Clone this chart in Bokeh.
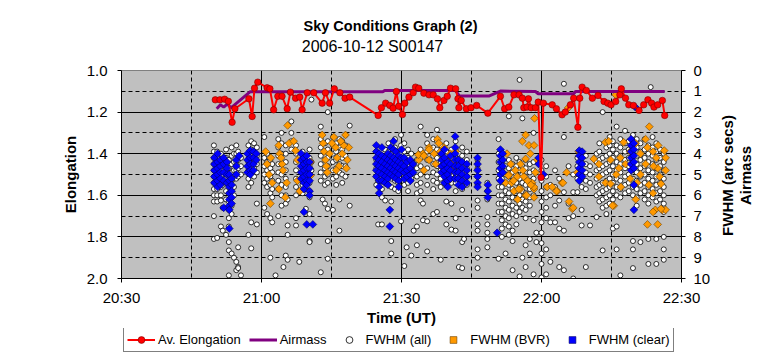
import math
from bokeh.plotting import figure
from bokeh.layouts import column, row
from bokeh.models import (Range1d, LinearAxis, FixedTicker, Grid, Legend, Label,
                          LegendItem, PrintfTickFormatter)
from bokeh.embed import file_html
from bokeh.resources import INLINE

FONT = "Liberation Sans"

# ---------------- data (time in minutes after 00:00 UT) ----------------
TICK_MIN = [1230, 1260, 1290, 1320, 1350]
TICK_LBL = ["20:30", "21:00", "21:30", "22:00", "22:30"]
ELONG_TICKS = [1.0, 1.2, 1.4, 1.6, 1.8, 2.0]
FWHM_TICKS = [0, 1, 2, 3, 4, 5, 6, 7, 8, 9, 10]

ELONG_T = [1250.1, 1251.1, 1252.1, 1252.9, 1253.7, 1254.3, 1257.3, 1258.0, 1258.5, 1259.2,
           1261.2, 1261.8, 1262.6, 1263.5, 1264.4, 1265.5, 1266.2, 1267.3, 1268.2, 1268.7,
           1269.8, 1271.2, 1273.0, 1273.7, 1274.6, 1275.6, 1276.8, 1277.9, 1278.9, 1285.0,
           1285.7, 1286.6, 1287.5, 1288.2, 1288.9, 1289.4, 1290.2, 1290.7, 1291.6, 1292.5,
           1293.0, 1293.7, 1294.8, 1295.9, 1296.8, 1297.7, 1298.2, 1299.1, 1299.8, 1300.5,
           1301.6, 1302.1, 1302.3, 1302.8, 1303.9, 1304.9, 1306.1, 1308.5, 1311.2, 1312.1,
           1313.0, 1314.1, 1315.2, 1315.9, 1316.2, 1316.9, 1317.2, 1317.8, 1318.7, 1319.3,
           1319.9, 1320.4, 1322.3, 1323.2, 1324.4, 1325.1, 1326.2, 1326.9, 1327.8, 1328.2,
           1328.7, 1329.6, 1330.9, 1332.1, 1333.4, 1334.2, 1334.9, 1335.9, 1336.8, 1337.1,
           1338.0, 1338.7, 1339.7, 1340.9, 1341.9, 1342.8, 1343.6, 1344.1, 1344.9, 1345.9,
           1346.4]
ELONG_V = [1.141, 1.141, 1.138, 1.148, 1.249, 1.184, 1.136, 1.221, 1.085, 1.056,
           1.083, 1.088, 1.189, 1.124, 1.124, 1.184, 1.104, 1.133, 1.128, 1.189,
           1.107, 1.107, 1.157, 1.107, 1.157, 1.088, 1.107, 1.133, 1.128, 1.216,
           1.179, 1.157, 1.168, 1.181, 1.101, 1.172, 1.212, 1.157, 1.128, 1.107,
           1.080, 1.085, 1.109, 1.117, 1.117, 1.136, 1.179, 1.144, 1.124, 1.085,
           1.088, 1.136, 1.179, 1.144, 1.184, 1.179, 1.168, 1.205, 1.124, 1.184,
           1.176, 1.117, 1.117, 1.133, 1.179, 1.176, 1.136, 1.179, 1.179, 1.152,
           1.514, 1.157, 1.165, 1.184, 1.213, 1.200, 1.165, 1.133, 1.273, 1.133,
           1.080, 1.096, 1.133, 1.120, 1.149, 1.157, 1.165, 1.149, 1.117, 1.088,
           1.133, 1.165, 1.168, 1.192, 1.165, 1.141, 1.157, 1.176, 1.165, 1.144,
           1.216]

AIR_T = [1250.4, 1251.2, 1251.9, 1252.7, 1253.4, 1254.1, 1257.6, 1286.0, 1286.4, 1301.6,
         1302.4, 1308.7, 1311.2, 1318.7, 1319.3, 1326.9, 1327.3, 1346.4]
AIR_V = [1.84, 1.65, 1.76, 1.60, 1.79, 1.68, 1.02, 1.02, 0.96, 0.96,
         1.23, 1.23, 0.99, 1.01, 1.12, 1.12, 1.01, 1.01]

# FWHM (all): one time per column of measurements, values in arc secs
ALL_COL_T = [1249.8, 1250.5, 1251.3, 1251.7, 1252.4, 1253.0, 1253.6, 1254.1, 1254.6, 1255.0, 1255.6,
             1257.2, 1257.8, 1258.4, 1259.0,
             1260.6, 1261.2, 1261.9, 1262.3, 1263.0, 1263.6, 1264.3, 1264.7, 1265.2, 1265.6, 1266.4,
             1267.4, 1268.1,
             1268.8, 1269.5, 1270.3, 1270.7,
             1272.7, 1273.1, 1273.6, 1274.2, 1275.3, 1276.0, 1276.7, 1277.3, 1278.0, 1278.9,
             1284.6, 1285.0, 1285.8, 1286.5, 1287.2, 1287.8, 1288.6, 1289.3, 1289.9, 1290.6,
             1291.1, 1291.4, 1292.1, 1292.6, 1293.3, 1294.1, 1294.6, 1295.5, 1296.8, 1297.6,
             1298.4, 1299.6, 1300.7, 1301.6, 1302.3, 1303.0, 1303.4, 1304.0, 1306.3, 1308.4,
             1310.8, 1311.5, 1312.3, 1313.0, 1313.8, 1314.6, 1315.3, 1315.9, 1316.6, 1317.5,
             1318.3, 1318.9, 1320.0,
             1321.0, 1321.9, 1322.9, 1323.8, 1324.8, 1325.8, 1326.8, 1327.7, 1328.6, 1329.5, 1330.4,
             1331.8, 1332.4, 1333.1, 1333.9, 1334.6, 1335.3, 1336.1, 1336.9, 1337.9, 1338.7,
             1339.6, 1340.4, 1341.2, 1342.1, 1342.9, 1343.4, 1343.8, 1344.6, 1345.4, 1346.2]
ALL_COL_F = [
    [3.6, 3.9, 4.2, 4.5, 4.8, 5.1, 5.4, 5.7, 6.0, 6.3, 7.0, 8.1],
    [3.9, 4.2, 4.5, 4.8, 5.1, 5.4, 5.7, 6.0, 6.3, 8.05],
    [4.0, 4.4, 4.8, 5.2, 5.6, 6.0, 6.25, 7.5],
    [4.5, 5.0, 5.5, 6.6, 7.7],
    [3.8, 4.2, 4.6, 5.0, 5.4, 5.8, 6.2, 7.9],
    [4.3, 4.7, 5.1, 5.5, 5.9, 6.3, 6.7, 7.1, 7.5, 8.25, 8.65, 9.85],
    [3.7, 4.1, 4.5, 4.9, 5.3, 5.7, 6.1, 6.5, 6.9, 8.8],
    [4.0, 4.4, 4.8, 5.2, 5.6, 6.0, 9.0],
    [3.6, 4.0, 4.4, 4.8, 5.2, 9.2, 9.6],
    [3.9, 4.3, 4.7, 5.1, 8.5, 9.45, 9.5],
    [4.2, 4.6, 5.0, 9.85],
    [3.6, 4.0, 4.4, 4.8, 5.2, 5.6, 7.9],
    [3.4, 3.8, 4.2, 4.6, 5.0, 5.4, 7.3, 8.55],
    [3.5, 3.9, 4.3, 4.7, 5.1],
    [3.7, 4.1, 4.5, 4.9, 6.4, 7.4],
    [3.2, 4.2, 4.6, 5.0, 5.4, 6.6],
    [4.0, 4.4, 4.8, 5.2, 5.6, 6.9],
    [4.3, 4.7, 5.1, 5.5, 5.9, 7.1, 8.1, 9.0],
    [4.5, 4.9, 5.3, 5.7, 6.1, 7.3],
    [9.85],
    [3.3, 3.7, 4.1, 4.5, 4.9, 5.3, 5.7, 7.0],
    [3.0, 3.5, 4.0, 4.5, 5.0, 5.5, 6.0, 6.5],
    [9.45],
    [3.6, 4.0, 4.4, 4.8, 5.2, 5.6, 6.0, 6.4, 8.9],
    [6.2, 7.45, 7.9, 9.1],
    [2.45, 3.0, 3.4, 3.8],
    [3.6, 4.0, 4.4, 4.8, 5.2, 5.6, 6.0, 7.1, 7.45],
    [9.2],
    [3.9, 4.3, 4.7, 5.1, 5.5, 5.9],
    [4.1, 4.5, 4.9, 5.3, 5.7, 6.65],
    [3.8, 4.2, 4.6, 5.0, 5.4, 5.8, 6.1, 6.9, 8.2, 8.25],
    [1.4, 4.4, 4.8],
    [2.7, 3.3, 3.7, 4.1, 4.5, 4.9, 5.3, 9.7],
    [6.2],
    [3.5, 3.9, 4.3, 4.7, 5.1, 5.5, 6.4],
    [2.0, 3.4, 3.8, 4.2, 4.6, 5.0, 5.4, 6.65, 8.2, 9.05],
    [3.2, 3.6, 4.0, 4.4, 4.8, 5.2, 6.7],
    [3.5, 3.9, 4.3, 4.7, 5.1, 5.5],
    [3.3, 3.7, 4.1, 4.5, 4.9, 6.2, 7.7],
    [3.4, 3.8, 4.2, 4.6, 5.0, 5.4],
    [3.1, 3.6, 4.1, 4.6, 5.1],
    [2.65, 6.5],
    [3.9, 4.3, 4.7, 5.1, 5.5],
    [4.1, 4.5, 4.9, 5.3, 7.4],
    [4.5, 4.9, 5.3, 5.7, 6.1, 7.4],
    [3.8, 4.2, 4.6, 5.0, 5.4, 6.25],
    [3.5, 3.9, 4.3, 4.7, 5.1, 5.5],
    [4.0, 4.4, 4.8, 5.2, 5.6, 6.3, 8.2, 8.8],
    [3.3, 3.7, 4.1, 4.5, 4.9, 5.3, 5.7],
    [4.2, 4.6, 5.0, 5.4, 5.8],
    [3.1, 3.6, 4.0, 4.4, 4.8, 7.25],
    [3.5, 3.9, 4.3, 4.7, 5.1, 5.5, 9.4],
    [8.5],
    [3.8, 4.2, 4.6, 5.0, 5.4, 5.8],
    [4.0, 4.4, 4.8, 5.2, 8.9],
    [7.7],
    [4.3, 4.7, 5.1, 5.5, 5.9, 7.5, 8.4],
    [2.7, 3.8, 4.2, 4.6, 5.0, 5.4, 5.8, 6.25],
    [6.4, 7.2],
    [3.1, 3.5, 3.9, 4.3, 4.7, 5.1, 5.5, 7.25, 8.7],
    [3.3, 3.7, 4.1, 4.5, 4.9, 5.3, 5.7, 6.9],
    [2.85, 3.4, 3.8, 4.2, 4.6, 5.0, 5.4, 6.8],
    [3.6, 4.0, 4.4, 4.8, 5.2, 5.6, 9.1],
    [3.5, 3.9, 4.3, 4.7, 5.1, 5.5, 6.3, 7.4],
    [3.8, 4.2, 4.6, 5.0, 5.4, 6.4, 7.65],
    [3.4, 3.8, 4.2, 4.6, 5.0, 5.4, 5.8, 7.1, 7.7],
    [4.0, 4.4, 4.8, 5.2, 9.45],
    [3.7, 4.1, 4.5, 4.9, 5.3, 5.7, 6.7, 8.25, 9.5],
    [8.1],
    [3.9, 4.3, 4.7, 5.1, 5.5],
    [4.3, 4.7, 5.1, 5.5, 6.25, 6.6, 7.4, 7.7, 8.6, 9.0, 9.5],
    [5.4, 5.8, 6.2, 7.05, 7.4, 7.8, 8.1, 8.5],
    [3.3, 4.0, 4.4, 4.8, 5.2, 5.6, 6.0, 6.4, 6.8, 9.05],
    [4.4, 4.8, 5.2, 5.6, 6.0, 6.4, 6.8, 7.2, 7.6, 8.0],
    [4.6, 5.0, 5.4, 5.8, 6.2, 6.6, 7.0, 7.4, 8.8],
    [2.2, 4.3, 4.7, 5.1, 5.5, 5.9, 6.3, 6.7, 7.1, 7.5, 7.9],
    [4.5, 4.9, 5.3, 5.7, 6.1, 6.5, 6.9, 7.7, 8.2, 9.6],
    [4.2, 4.6, 5.0, 5.4, 5.8, 6.2, 6.6, 7.0, 7.4],
    [0.45, 4.4, 4.8, 5.2, 5.6, 6.0, 6.4, 6.8, 9.9],
    [2.3, 4.6, 5.0, 5.4, 5.8, 6.2, 6.6, 9.0],
    [4.3, 4.7, 5.1, 5.5, 5.9, 6.3, 6.7, 7.1, 8.4, 9.45],
    [4.5, 4.9, 5.3, 5.7, 6.1, 6.5, 8.1, 8.8],
    [3.0, 4.4, 4.8, 5.2, 5.6, 6.0, 7.2, 9.8],
    [7.8, 8.25],
    [4.3, 4.8, 5.3, 5.8, 6.3, 6.8, 7.3, 7.8, 8.3, 8.8, 9.3, 9.95],
    [4.6, 5.1, 5.6, 6.1, 6.6, 7.1, 8.6, 9.8],
    [5.5, 6.0, 7.3, 9.2],
    [4.8, 5.6, 6.5, 7.3],
    [5.2, 6.25, 7.6, 9.45],
    [0.64, 3.2, 5.85, 7.7, 9.6],
    [4.6, 6.4, 7.1],
    [5.0, 5.85, 7.0, 10.0],
    [4.2, 4.6, 5.2, 5.85],
    [4.4, 4.8, 5.2, 5.6, 6.7, 7.45],
    [4.1, 4.5, 4.9, 5.3, 5.7, 9.45],
    [4.6, 5.0, 5.4, 7.45],
    [4.0, 4.4, 4.8, 5.2, 5.6, 6.0, 7.05],
    [3.5, 3.9, 4.3, 4.7, 5.1, 5.5, 5.9, 6.3],
    [2.0, 4.2, 4.6, 5.0, 5.4, 5.8, 6.2, 6.6, 8.65],
    [3.7, 4.1, 4.5, 4.9, 5.3, 5.7, 6.1, 6.5, 6.9],
    [3.2, 3.6, 4.0, 4.4, 4.8, 5.2, 5.6, 6.0, 6.4],
    [3.4, 3.8, 4.2, 4.6, 5.0, 5.4, 5.8, 6.2, 7.6],
    [2.7, 3.6, 4.0, 4.4, 4.8, 5.2, 5.6, 6.0, 7.5, 8.6],
    [3.3, 3.7, 4.1, 4.5, 4.9, 5.3, 5.7, 6.1, 9.85],
    [2.9, 3.5, 3.9, 4.3, 4.7, 5.1, 5.5, 5.9],
    [3.4, 3.8, 4.2, 4.6, 5.0, 5.4, 5.8],
    [3.1, 3.6, 4.0, 4.4, 4.8, 5.2, 5.6, 6.0, 8.2, 8.6, 9.5],
    [3.3, 3.7, 4.1, 4.5, 4.9, 5.3, 5.7, 6.1, 6.5],
    [3.5, 3.9, 4.3, 4.7, 5.1, 5.5, 5.9, 8.25],
    [3.3, 3.8, 4.2, 4.6, 5.0, 5.4, 5.8, 6.2],
    [3.6, 4.0, 4.4, 4.8, 5.2, 5.6, 6.0, 6.4, 8.1, 9.3],
    [0.8],
    [3.2, 3.7, 4.1, 4.5, 4.9, 5.3, 5.7, 6.1],
    [3.5, 3.9, 4.3, 4.7, 5.1, 5.5, 5.9, 6.3, 8.1, 9.3],
    [3.8, 4.2, 4.6, 5.0, 5.4, 5.8, 6.2],
    [4.0, 4.4, 4.8, 5.2, 5.6, 6.0, 6.4, 6.8, 8.0, 8.6, 9.1],
]

# FWHM (BVR)
BVR_T = [1260.9, 1261.2, 1261.6, 1262.3, 1261.9, 1263.7, 1263.9, 1264.4, 1264.6, 1263.7,
         1265.4, 1265.1, 1265.6, 1265.9, 1266.9, 1267.3, 1267.7, 1267.7, 1268.2, 1270.5,
         1270.5, 1262.0, 1264.2,
         1273.0, 1273.2, 1273.4, 1273.7, 1274.1, 1275.5, 1275.9, 1276.2, 1276.6, 1277.3,
         1278.0, 1278.4, 1278.7, 1276.0, 1277.6, 1278.2, 1273.9, 1275.1, 1274.6, 1277.0,
         1293.7, 1294.6, 1294.8, 1295.9, 1295.9, 1297.7, 1298.0, 1298.3, 1297.3, 1299.1,
         1299.5, 1299.8, 1299.5, 1300.1, 1300.5, 1301.2, 1301.6, 1293.6, 1295.9, 1294.8,
         1297.0, 1298.6, 1300.8,
         1318.5, 1316.6, 1315.9, 1317.3, 1318.4, 1317.6, 1316.6, 1315.5, 1314.4, 1313.4,
         1313.0, 1312.3, 1314.1, 1315.5, 1316.6, 1318.0, 1318.7, 1318.4, 1318.4, 1319.1,
         1314.8, 1316.2, 1312.6, 1313.6, 1314.9, 1316.0, 1317.0, 1312.9, 1314.0, 1315.1,
         1316.8, 1318.4, 1317.7, 1321.2, 1323.4,
         1325.4, 1324.4, 1322.3, 1327.7, 1328.0, 1325.9, 1326.6, 1323.2, 1324.6, 1326.8,
         1325.7,
         1333.7, 1334.4, 1334.8, 1332.3, 1331.2, 1332.3, 1333.7, 1334.8, 1335.5, 1335.2,
         1336.6, 1336.9, 1337.6, 1335.9, 1340.2, 1341.2, 1342.3, 1343.1, 1342.7, 1342.3,
         1341.2, 1340.5, 1340.2, 1343.9, 1344.6, 1344.9, 1345.3, 1345.6, 1346.3, 1346.6,
         1346.6, 1345.9, 1346.6, 1344.4, 1343.9, 1342.7, 1343.9, 1344.9, 1345.6, 1336.0,
         1337.0, 1338.0, 1339.0, 1344.0, 1345.0, 1343.0, 1339.0]
BVR_F = [3.9, 4.5, 5.0, 5.4, 6.4, 3.6, 4.0, 4.5, 4.8, 5.7,
         5.4, 6.1, 2.64, 3.5, 3.4, 3.85, 4.3, 5.3, 5.8, 4.4,
         5.05, 4.2, 4.2,
         3.1, 3.5, 3.9, 4.3, 4.9, 3.2, 3.7, 4.2, 4.6, 4.0,
         3.1, 4.3, 3.7, 4.8, 3.6, 4.7, 4.6, 3.5, 4.0, 3.4,
         4.3, 4.0, 4.8, 3.7, 4.3, 3.3, 3.5, 3.9, 4.5, 3.7,
         4.3, 5.0, 5.45, 5.3, 4.0, 4.4, 3.9, 4.05, 3.8, 4.1,
         4.0, 4.6, 4.8,
         2.3, 3.1, 3.4, 3.6, 3.6, 4.0, 4.25, 4.5, 4.8, 4.5,
         5.0, 5.4, 5.8, 5.7, 6.0, 5.4, 4.9, 5.7, 6.1, 4.3,
         5.1, 5.1, 4.0, 5.4, 6.2, 4.8, 5.3, 5.05, 5.3, 5.7,
         6.0, 5.6, 5.5, 5.6, 5.8,
         4.9, 5.4, 5.6, 4.9, 3.9, 6.3, 6.65, 5.8, 5.4, 6.6,
         1.8,
         3.45, 3.4, 4.3, 4.5, 4.25, 5.1, 5.4, 5.45, 6.5, 6.5,
         4.7, 4.2, 3.45, 1.17, 3.5, 4.0, 3.3, 2.7, 3.7, 4.5,
         5.0, 5.4, 6.2, 3.9, 4.2, 4.7, 5.1, 5.45, 3.85, 4.2,
         4.8, 6.7, 6.7, 6.7, 5.9, 7.4, 6.8, 7.4, 6.65, 5.0,
         5.6, 4.5, 5.2, 4.6, 3.6, 5.5, 3.9]

# FWHM (clear): one time per column of measurements
CLR_COL_T = [1249.9, 1250.6, 1251.2, 1251.9, 1252.6, 1253.1, 1253.6, 1254.6, 1255.2,
             1257.0, 1257.6, 1258.3, 1258.9,
             1268.5, 1269.1, 1269.7, 1270.3, 1271.0,
             1284.6, 1285.2, 1285.8, 1286.5, 1287.1, 1287.5, 1287.7, 1288.3, 1288.8, 1289.4,
             1290.0, 1290.6, 1291.2, 1291.9, 1292.5,
             1298.6, 1299.2, 1299.9, 1300.5, 1301.5, 1302.2, 1303.0, 1304.0, 1306.3, 1308.5,
             1310.5, 1311.2, 1311.7, 1319.4, 1320.4,
             1328.1, 1328.7, 1339.2, 1339.8, 1340.1]
CLR_COL_F = [
    [4.2, 4.5, 4.8, 5.1, 5.4],
    [4.0, 4.4, 4.7, 5.0, 5.3, 5.6],
    [4.3, 4.6, 4.9, 5.2, 5.5],
    [4.2, 4.5, 4.9, 5.3, 6.6],
    [4.4, 4.7, 5.0, 5.4],
    [5.0, 5.3, 5.6, 5.9, 6.2, 6.5, 6.7, 7.6],
    [5.2, 5.5, 5.8, 6.1, 6.4],
    [4.3, 4.6, 5.0],
    [4.1],
    [4.0, 4.3, 4.6, 4.9],
    [3.85, 4.2, 4.5, 4.8, 5.0],
    [3.9, 4.2, 4.5, 4.8],
    [4.0, 4.3],
    [4.0, 4.3, 4.6, 4.9, 5.2],
    [4.2, 4.5, 4.8, 5.1, 5.4, 5.7, 6.8],
    [4.1, 4.4, 4.7, 5.0, 5.3, 5.5, 7.4],
    [4.4, 4.7, 5.0, 5.3, 5.8, 6.0],
    [7.4],
    [3.6, 3.9, 4.2, 4.5, 4.8, 5.1],
    [4.0, 4.3, 4.6, 4.9, 5.3, 5.6, 5.9],
    [3.7, 4.1, 4.4, 4.7, 5.0, 5.3],
    [4.2, 4.5, 4.8, 5.1, 5.4],
    [4.0, 4.3, 4.6, 4.9, 5.2, 5.5],
    [6.7, 7.5],
    [3.7, 4.1, 4.4, 4.7, 5.0],
    [3.4, 3.8, 4.2, 4.5, 4.8, 5.1],
    [3.9, 4.3, 4.6, 4.9, 5.2],
    [4.1, 4.4, 4.7, 5.0, 5.3, 5.6],
    [3.8, 4.2, 4.5, 4.8],
    [4.2, 4.6, 4.9, 5.2],
    [4.4, 4.8, 5.1],
    [4.3, 4.7, 5.0, 5.3],
    [4.5, 4.9],
    [4.0, 4.3, 4.6, 4.9],
    [3.8, 4.2, 4.5, 4.8, 5.1, 5.4],
    [4.4, 4.7, 5.0, 5.3, 5.6],
    [4.1, 4.5, 4.8, 5.2],
    [3.17, 3.7, 4.0, 4.3, 4.6, 4.9, 5.2],
    [4.3, 4.6, 4.9, 5.2, 5.5],
    [4.4, 4.7, 5.0, 5.3, 5.6],
    [4.5, 4.8, 5.1, 5.4],
    [4.2, 4.5, 4.8, 5.1, 5.4, 5.6],
    [5.5, 5.8, 6.1],
    [7.8],
    [3.8, 4.1, 4.4, 4.7, 5.0, 5.3],
    [4.0, 4.3, 4.6, 4.9],
    [4.2, 4.5],
    [5.0],
    [3.85, 4.1, 4.4, 4.7, 5.0, 5.3],
    [3.9, 4.2, 4.5, 4.8, 5.1],
    [3.3, 3.6, 3.9, 4.2, 4.5, 4.8],
    [3.5, 3.8, 4.1, 4.4, 4.7, 5.5, 6.7],
    [1.76],
]

TITLE = "Sky Conditions Graph (2)"
SUBTITLE = "2006-10-12 S00147"
RIGHT_TITLES = ["FWHM (arc secs)", "Airmass"]
LEGEND_LABELS = ["Av. Elongation", "Airmass", "FWHM (all)", "FWHM (BVR)", "FWHM (clear)"]

all_t = [t for t, fs in zip(ALL_COL_T, ALL_COL_F) for _ in fs]
all_f = [f for fs in ALL_COL_F for f in fs]
clr_t = [t for t, fs in zip(CLR_COL_T, CLR_COL_F) for _ in fs]
clr_f = [f for fs in CLR_COL_F for f in fs]

# ---------------- styles ----------------
ALL_STYLE = dict(marker="circle", size=5, fill_color="white", line_color="black", line_width=0.8)
BVR_STYLE = dict(marker="square", angle=math.pi / 4, size=5.5, fill_color="#FF9900",
                 line_color="#6b4000", line_width=0.6)
CLR_STYLE = dict(marker="square", angle=math.pi / 4, size=5.5, fill_color="#0000FF",
                 line_color="#000066", line_width=0.6)
AIR_STYLE = dict(line_color="#800080", line_width=3)
EL_LINE_STYLE = dict(line_color="#FF0000", line_width=2)
EL_PT_STYLE = dict(marker="circle", size=6.5, fill_color="#FF0000", line_color="#800000",
                   line_width=0.6)

TOP_H = 56          # strip carrying the two title lines
LEFT_B = 121        # left border shared by all strips
P_RIGHT_B = 36      # main plot right border (right axis ticks + numbers)
MAIN_TOP_B = 70 - TOP_H
MAIN_BOTTOM_B = 50
FRAME_W, FRAME_H = 560, 208
MAIN_H = MAIN_TOP_B + FRAME_H + MAIN_BOTTOM_B
SIDE_W = 44


def blank(width, height, **kw):
    f = figure(width=width, height=height, title=None, x_range=Range1d(0, 1),
               y_range=Range1d(0, 1), output_backend="svg", toolbar_location=None,
               x_axis_location=None, y_axis_location=None, outline_line_color=None,
               background_fill_color="white", border_fill_color="white", **kw)
    f.grid.visible = False
    return f


def txt(fig, x, y, text, size, bold, angle=0.0):
    fig.add_layout(Label(x=x, y=y, x_units="screen", y_units="screen", text=text,
                         angle=angle, text_align="center", text_baseline="middle",
                         text_font=FONT, text_font_size=size,
                         text_font_style="bold" if bold else "normal", text_color="black"))


# ---------------- title strip ----------------
pt = blank(757, TOP_H, min_border_left=LEFT_B, min_border_right=76,
           min_border_top=0, min_border_bottom=0)
txt(pt, 269, TOP_H - 25, TITLE, "14.5px", True)
txt(pt, 251, TOP_H - 46, SUBTITLE, "16px", False)

# ---------------- main figure ----------------
p = figure(frame_width=FRAME_W, frame_height=FRAME_H, title=None,
           x_range=Range1d(1230, 1350), y_range=Range1d(2.0, 1.0),
           output_backend="svg", toolbar_location=None,
           min_border_left=LEFT_B, min_border_right=P_RIGHT_B, min_border_top=MAIN_TOP_B,
           min_border_bottom=MAIN_BOTTOM_B,
           background_fill_color="#C0C0C0", border_fill_color="white",
           outline_line_color="#808080")
p.extra_y_ranges = {"fwhm": Range1d(start=10, end=0)}

p.xgrid.ticker = FixedTicker(ticks=[1260, 1290, 1320])
p.ygrid.ticker = FixedTicker(ticks=[1.2, 1.4, 1.6, 1.8])
for g in (p.xgrid, p.ygrid):
    g.grid_line_color = "black"
    g.grid_line_width = 1
p.add_layout(Grid(dimension=0, ticker=FixedTicker(ticks=[1245, 1275, 1305, 1335]),
                  grid_line_color="black", grid_line_dash="4 3"))
p.add_layout(Grid(dimension=1, ticker=FixedTicker(ticks=[1.1, 1.3, 1.5, 1.7, 1.9]),
                  grid_line_color="black", grid_line_dash="4 3"))

p.scatter(all_t, all_f, y_range_name="fwhm", **ALL_STYLE)
p.scatter(BVR_T, BVR_F, y_range_name="fwhm", **BVR_STYLE)
p.scatter(clr_t, clr_f, y_range_name="fwhm", **CLR_STYLE)
p.line(AIR_T, AIR_V, y_range_name="fwhm", **AIR_STYLE)
p.line(ELONG_T, ELONG_V, **EL_LINE_STYLE)
p.scatter(ELONG_T, ELONG_V, **EL_PT_STYLE)


def style_axis(ax):
    ax.axis_line_color = "black"
    ax.major_tick_line_color = "black"
    ax.major_tick_out = 4
    ax.major_tick_in = 0
    ax.minor_tick_line_color = None
    ax.major_label_text_font = FONT
    ax.major_label_text_font_size = "15px"
    ax.major_label_text_color = "black"
    ax.axis_label_text_font = FONT
    ax.axis_label_text_font_size = "15px"
    ax.axis_label_text_font_style = "bold"
    ax.axis_label_text_color = "black"


xa = p.xaxis[0]
style_axis(xa)
xa.ticker = FixedTicker(ticks=TICK_MIN)
xa.major_label_overrides = {t: l for t, l in zip(TICK_MIN, TICK_LBL)}
xa.major_label_standoff = 6
xa.axis_label = "Time (UT)"
xa.axis_label_standoff = 0

ya = p.yaxis[0]
style_axis(ya)
ya.ticker = FixedTicker(ticks=ELONG_TICKS)
ya.formatter = PrintfTickFormatter(format="%.1f")
ya.major_label_standoff = 10
ya.axis_label = "Elongation"
ya.axis_label_standoff = 5

ra = LinearAxis(y_range_name="fwhm", ticker=FixedTicker(ticks=FWHM_TICKS))
style_axis(ra)
ra.major_label_standoff = 8
p.add_layout(ra, "right")

# ---------------- right-hand titles strip ----------------
pr = blank(SIDE_W, MAIN_H, min_border_left=0, min_border_right=0,
           min_border_top=MAIN_TOP_B, min_border_bottom=MAIN_BOTTOM_B)
side_left = LEFT_B + FRAME_W + P_RIGHT_B
mid_y = FRAME_H - (175 - 70)
txt(pr, 727 - side_left, mid_y, RIGHT_TITLES[0], "15px", True, math.pi / 2)
txt(pr, 745 - side_left, mid_y, RIGHT_TITLES[1], "15px", True, math.pi / 2)

# ---------------- legend strip ----------------
pl = blank(757, 26, min_border_left=LEFT_B, min_border_right=76,
           min_border_top=0, min_border_bottom=0)
hx, hy = [-5], [-5]
l_el_line = pl.line(hx, hy, **EL_LINE_STYLE)
l_el_pt = pl.scatter(hx, hy, **EL_PT_STYLE)
l_air = pl.line(hx, hy, **AIR_STYLE)
l_all = pl.scatter(hx, hy, **ALL_STYLE)
l_bvr = pl.scatter(hx, hy, **BVR_STYLE)
l_clr = pl.scatter(hx, hy, **CLR_STYLE)
legend = Legend(items=[
    LegendItem(label=LEGEND_LABELS[0], renderers=[l_el_line, l_el_pt]),
    LegendItem(label=LEGEND_LABELS[1], renderers=[l_air]),
    LegendItem(label=LEGEND_LABELS[2], renderers=[l_all]),
    LegendItem(label=LEGEND_LABELS[3], renderers=[l_bvr]),
    LegendItem(label=LEGEND_LABELS[4], renderers=[l_clr]),
], orientation="horizontal", location=(2, 2),
    label_text_font=FONT, label_text_font_size="13px", label_text_color="black",
    glyph_width=28, glyph_height=17, label_height=17, label_standoff=3,
    spacing=8, padding=3, margin=0,
    border_line_color="black", border_line_width=1,
    background_fill_color="white", background_fill_alpha=1.0)
pl.add_layout(legend)

layout = column(pt, row(p, pr, spacing=0), pl, spacing=0)
open("out.html", "w").write(file_html(layout, INLINE))
